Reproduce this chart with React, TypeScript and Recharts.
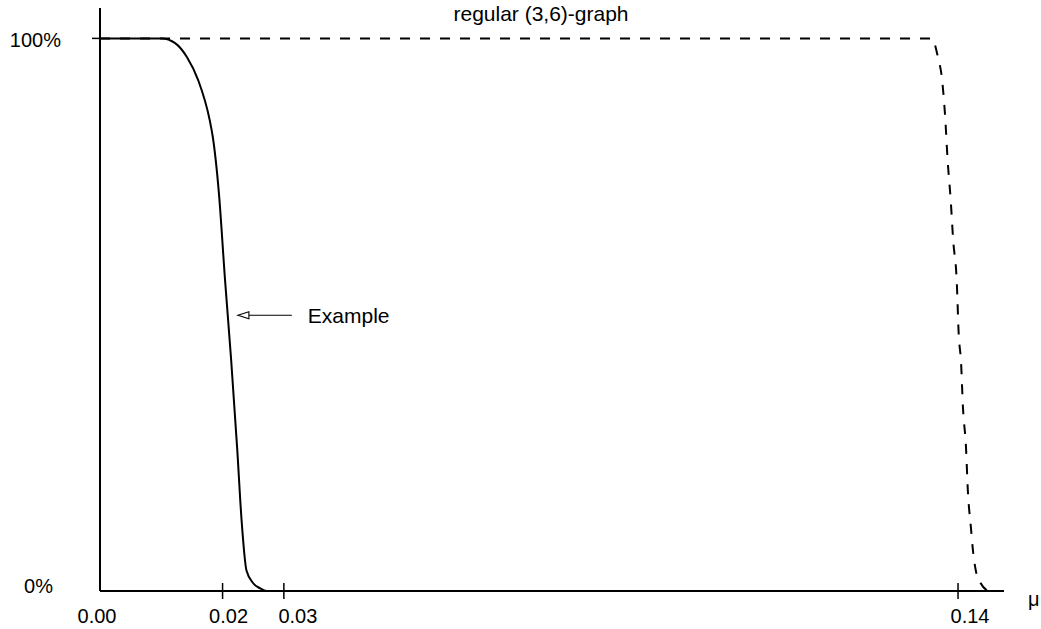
import React from "react";
import { LineChart, Line, XAxis, YAxis, ReferenceLine } from "recharts";

// ---- data ----
const solidMu = [0, 0.0101, 0.0122, 0.0142, 0.016, 0.0179, 0.0184, 0.0194, 0.0204, 0.0214, 0.0224, 0.0231, 0.0239, 0.025, 0.0261, 0.0272, 0.029];
const solidPct = [100, 100, 99.2, 96.6, 92.5, 85.2, 82.2, 72.0, 56.3, 41.8, 25.5, 12.8, 3.7, 1.4, 0.5, 0, 0];

const dashedMu = [0, 0.1357, 0.1367, 0.1374, 0.1379, 0.1383, 0.1388, 0.1392, 0.1398, 0.1401, 0.1405, 0.1408, 0.1413, 0.1416, 0.1421, 0.1424, 0.1429, 0.1437, 0.1447];
const dashedPct = [100, 100, 96.7, 92.5, 85.8, 78.0, 70.8, 63.6, 55.8, 46.7, 41.2, 33.3, 26.0, 18.2, 11.5, 7.7, 3.7, 1.4, 0.1];

const xTickValues = [0, 0.02, 0.03, 0.14];
const xTickLabels = ["0.00", "0.02", "0.03", "0.14"];
const yTickValues = [0, 100];
const yTickLabels = ["0%", "100%"];

const titleText = "regular (3,6)-graph";
const annotationText = "Example";
const arrowFrom = { mu: 0.0313, pct: 49.9 };
const arrowTo = { mu: 0.0225, pct: 49.9 };
const xAxisName = "μ";

const solidData = solidMu.map((mu, i) => ({ mu, pct: solidPct[i] }));
const dashedData = dashedMu.map((mu, i) => ({ mu, pct: dashedPct[i] }));

const FONT = "'Liberation Sans', Arial, Helvetica, sans-serif";

const X_LABEL_SHIFT = [-3, 6, 14, 12];

const XTick = (props: any) => {
  const { x, y, index } = props;
  return (
    <g>
      {index !== 0 && (
        <line x1={x} x2={x} y1={y - 8} y2={y + 8} stroke="#000" strokeWidth={1.5} />
      )}
      <text x={x + X_LABEL_SHIFT[index]} y={y + 32} textAnchor="middle" fontSize={20} fontFamily={FONT} fill="#000">
        {xTickLabels[index]}
      </text>
    </g>
  );
};

const Y_LABEL_DX = [-47, -39];
const Y_LABEL_DY = [2, 9];

const YTick = (props: any) => {
  const { x, y, index } = props;
  return (
    <g>
      {index === 1 && <line x1={x - 8} x2={x} y1={y} y2={y} stroke="#000" strokeWidth={1.5} />}
      <text x={x + Y_LABEL_DX[index]} y={y + Y_LABEL_DY[index]} textAnchor="end" fontSize={20} fontFamily={FONT} fill="#000">
        {yTickLabels[index]}
      </text>
    </g>
  );
};

const ArrowShape = (p: any) => {
  const { x1, y1, x2, y2 } = p;
  const left = Math.min(x1, x2);
  const right = Math.max(x1, x2);
  const y = (y1 + y2) / 2;
  return (
    <g>
      <line x1={left + 10} x2={right} y1={y} y2={y} stroke="#000" strokeWidth={1.2} />
      <polygon
        points={`${left},${y} ${left + 11},${y - 3.5} ${left + 11},${y + 3.5}`}
        fill="#fff"
        stroke="#000"
        strokeWidth={1.1}
      />
      <text x={right + 16} y={y + 8} fontSize={21} fontFamily={FONT} fill="#000">
        {annotationText}
      </text>
    </g>
  );
};

export default function App() {
  return (
    <div style={{ position: "absolute", left: 0, top: 0, width: 1041, height: 629, background: "#fff" }}>
      <LineChart
        width={1041}
        height={629}
        margin={{ top: 8, right: 37, bottom: 0, left: 0 }}
      >
        <XAxis
          dataKey="mu"
          type="number"
          domain={[0, 0.1475]}
          ticks={xTickValues}
          allowDataOverflow
          height={38}
          axisLine={{ stroke: "#000", strokeWidth: 2 }}
          tickLine={false}
          tickSize={0}
          tickMargin={0}
          tick={<XTick />}
          interval={0}
        />
        <YAxis
          type="number"
          domain={[0, 105.5]}
          ticks={yTickValues}
          allowDataOverflow
          width={100}
          axisLine={{ stroke: "#000", strokeWidth: 2 }}
          tickLine={false}
          tickSize={0}
          tickMargin={0}
          tick={<YTick />}
          interval={0}
        />
        <Line
          data={dashedData}
          dataKey="pct"
          type="monotone"
          stroke="#000"
          strokeWidth={2}
          strokeDasharray="10 10"
          dot={false}
          activeDot={false}
          isAnimationActive={false}
        />
        <Line
          data={solidData}
          dataKey="pct"
          type="monotone"
          stroke="#000"
          strokeWidth={2}
          dot={false}
          activeDot={false}
          isAnimationActive={false}
        />
        <ReferenceLine
          segment={[
            { x: arrowTo.mu, y: arrowTo.pct },
            { x: arrowFrom.mu, y: arrowFrom.pct },
          ]}
          shape={ArrowShape}
          ifOverflow="visible"
        />
      </LineChart>
      <svg
        width={1041}
        height={629}
        style={{ position: "absolute", left: 0, top: 0, pointerEvents: "none" }}
      >
        <text x={541} y={21} textAnchor="middle" fontSize={21} fontFamily={FONT} fill="#000">
          {titleText}
        </text>
        <text x={1028} y={606} fontSize={20} fontFamily={FONT} fill="#000">
          {xAxisName}
        </text>
      </svg>
    </div>
  );
}
